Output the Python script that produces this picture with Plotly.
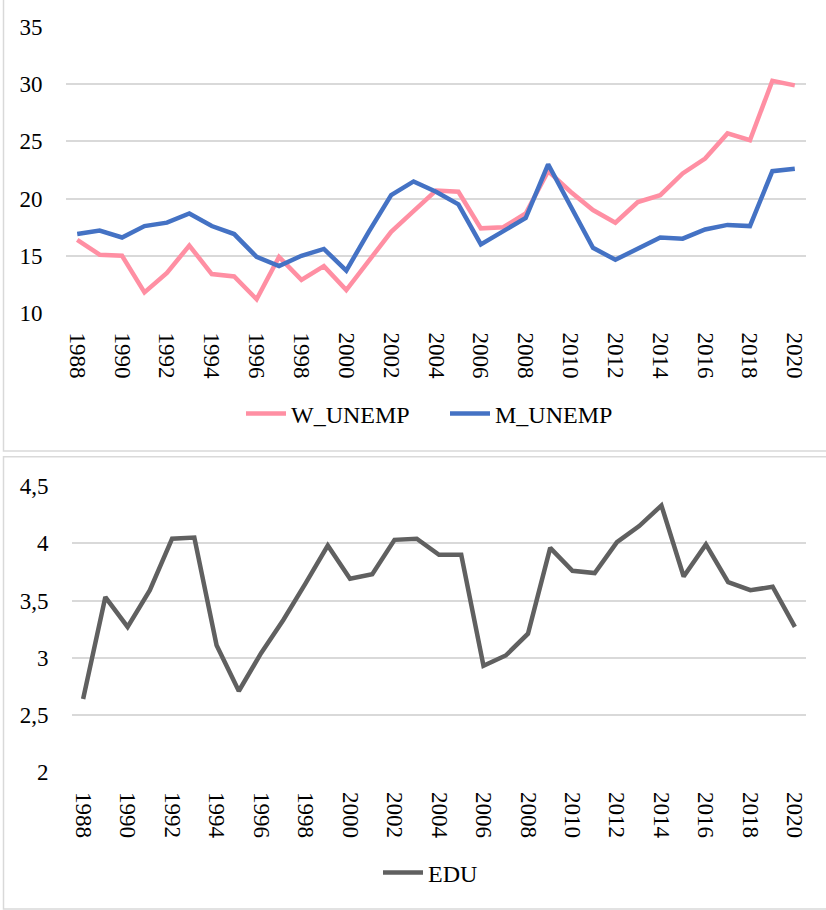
import plotly.graph_objects as go

years = list(range(1988, 2021))

w_unemp = [16.4, 15.1, 15.0, 11.8, 13.5, 15.9, 13.4, 13.2, 11.2, 14.9, 12.9, 14.1, 12.0,
           14.5, 17.1, 18.9, 20.7, 20.6, 17.4, 17.5, 18.7, 22.4, 20.6, 19.0, 17.9, 19.7,
           20.3, 22.2, 23.5, 25.7, 25.1, 30.3, 29.9]
m_unemp = [16.9, 17.2, 16.6, 17.6, 17.9, 18.7, 17.6, 16.9, 14.9, 14.1, 15.0, 15.6, 13.7,
           17.1, 20.3, 21.5, 20.6, 19.5, 16.0, 17.1, 18.3, 23.0, 19.3, 15.7, 14.65, 15.6,
           16.6, 16.5, 17.3, 17.7, 17.6, 22.4, 22.6]
edu = [2.64, 3.53, 3.27, 3.59, 4.04, 4.05, 3.11, 2.71, 3.04, 3.33, 3.65, 3.98, 3.69,
       3.73, 4.03, 4.04, 3.90, 3.90, 2.93, 3.02, 3.21, 3.96, 3.76, 3.74, 4.01, 4.15,
       4.33, 3.71, 3.99, 3.66, 3.59, 3.62, 3.27]

x_tick_vals = list(range(1988, 2021, 2))
x_tick_text = [str(v) for v in x_tick_vals]
top_y_vals = [10, 15, 20, 25, 30, 35]
top_y_text = ["10", "15", "20", "25", "30", "35"]
bot_y_vals = [2, 2.5, 3, 3.5, 4, 4.5]
bot_y_text = ["2", "2,5", "3", "3,5", "4", "4,5"]

W, H = 826, 910
FONT = "Times New Roman, Liberation Serif, DejaVu Serif, serif"
GRID = "#d9d9d9"

fig = go.Figure()
fig.add_trace(go.Scatter(x=years, y=w_unemp, mode="lines", name="W_UNEMP",
                         line=dict(color="#FF8FA3", width=4.5),
                         xaxis="x", yaxis="y", legend="legend"))
fig.add_trace(go.Scatter(x=years, y=m_unemp, mode="lines", name="M_UNEMP",
                         line=dict(color="#4472C4", width=4.5),
                         xaxis="x", yaxis="y", legend="legend"))
fig.add_trace(go.Scatter(x=years, y=edu, mode="lines", name="EDU",
                         line=dict(color="#606060", width=4.5),
                         xaxis="x2", yaxis="y2", legend="legend2"))

tickfont = dict(family=FONT, size=23, color="#000000")

def xaxis(domain, anchor):
    return dict(domain=domain, anchor=anchor, range=[1987.5, 2020.5],
                tickvals=x_tick_vals, ticktext=x_tick_text, tickangle=90,
                showgrid=False, zeroline=False, showline=False,
                ticks="outside", ticklen=14, tickcolor="rgba(0,0,0,0)",
                tickfont=tickfont, automargin=False, fixedrange=True)

def yaxis(domain, anchor, rng, vals, text):
    return dict(domain=domain, anchor=anchor, range=rng, tickvals=vals, ticktext=text,
                showgrid=True, gridcolor=GRID, gridwidth=1.5, zeroline=False,
                showline=False, ticks="outside", ticklen=18, tickcolor="rgba(0,0,0,0)",
                tickfont=tickfont, automargin=False, fixedrange=True)

legfont = dict(family=FONT, size=24, color="#000000")

fig.update_layout(
    width=W, height=H,
    margin=dict(l=0, r=0, t=0, b=0),
    paper_bgcolor="white", plot_bgcolor="white",
    font=dict(family=FONT, size=23, color="#000000"),
    xaxis=xaxis([66 / W, 806 / W], "y"),
    yaxis=yaxis([1 - 313 / H, 1 - 27 / H], "x", [10, 35], top_y_vals, top_y_text),
    xaxis2=xaxis([72 / W, 806 / W], "y2"),
    yaxis2=yaxis([1 - 772.3 / H, 1 - 486 / H], "x2", [2, 4.5], bot_y_vals, bot_y_text),
    legend=dict(orientation="h", x=241 / W, xanchor="left", y=1 - 414 / H, yanchor="middle",
                font=legfont, bgcolor="rgba(0,0,0,0)", itemwidth=40,
                entrywidth=149, entrywidthmode="pixels"),
    legend2=dict(orientation="h", x=378 / W, xanchor="left", y=1 - 873 / H, yanchor="middle",
                 font=legfont, bgcolor="rgba(0,0,0,0)", itemwidth=40),
    shapes=[
        dict(type="rect", xref="paper", yref="paper", x0=3.5 / W, x1=1.05,
             y0=1 - 451 / H, y1=1.05, line=dict(color=GRID, width=1.5), layer="below"),
        dict(type="rect", xref="paper", yref="paper", x0=3.5 / W, x1=1.05,
             y0=1 - 909 / H, y1=1 - 456.7 / H, line=dict(color=GRID, width=1.5), layer="below"),
    ],
    showlegend=True,
)

fig.write_html("out.html", config={"displayModeBar": False},
               post_script="document.body.style.margin='0';document.body.style.padding='0';")
